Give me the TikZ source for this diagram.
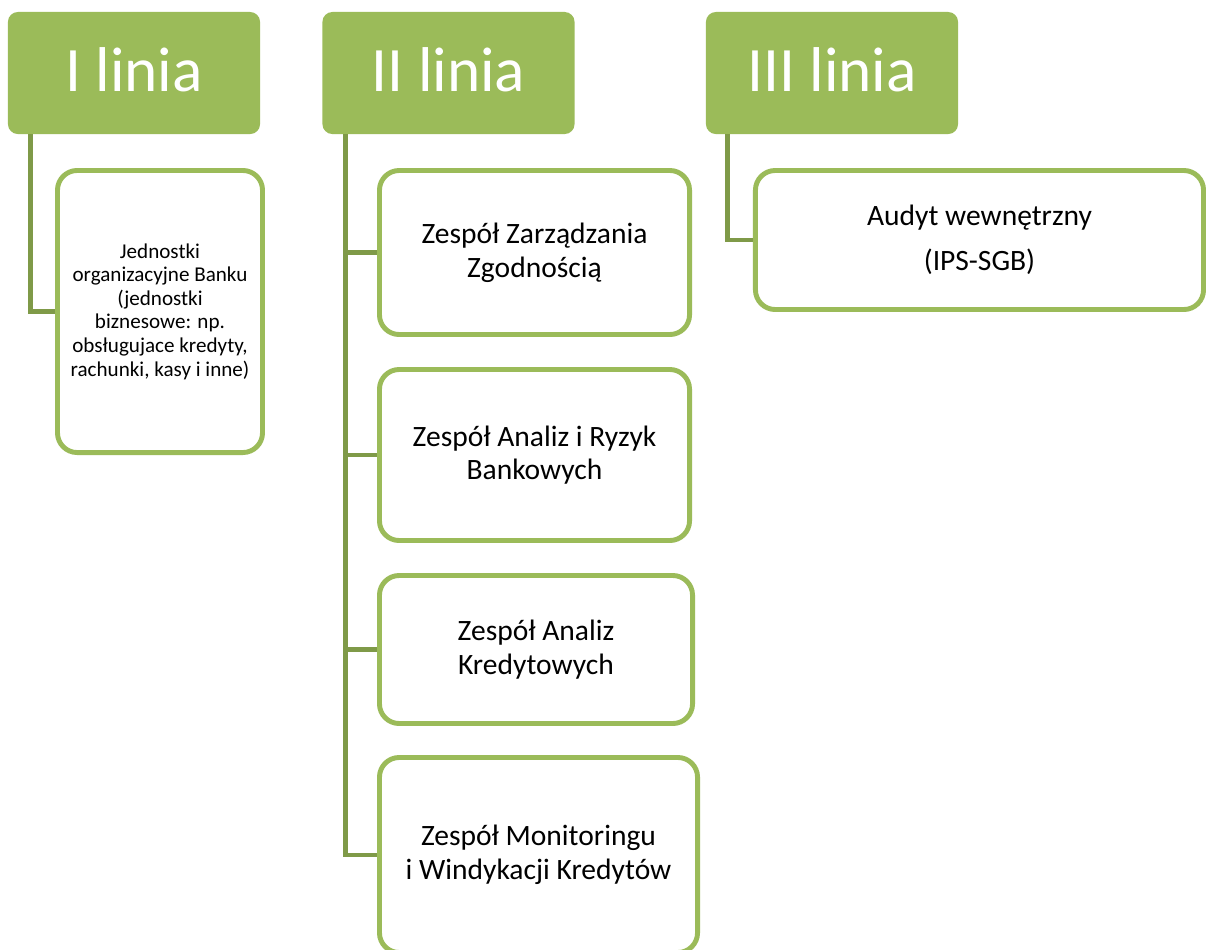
\documentclass[tikz,border=0pt]{standalone}
\usepackage{fontspec}
\setmainfont{Carlito}
\definecolor{lineGreen}{HTML}{9BBB59}
\definecolor{linkGreen}{HTML}{7F9A48}

\begin{document}
\begin{tikzpicture}[x=0.025cm, y=-0.025cm,
    header/.style={fill=lineGreen, rounded corners=7pt, text=white,
        font=\fontsize{45}{50}\selectfont, inner sep=0pt, text depth=5pt},
    unit/.style={draw=lineGreen, line width=3.5pt, fill=white, rounded corners=14pt,
        align=center, font=\fontsize{21}{24}\selectfont, inner sep=0pt},
    link/.style={draw=linkGreen, line width=3.4pt}]
    \def\hw{6.3cm}      % header width
    \def\hh{3.05cm}     % header height
    \def\lx{23}         % link distance from header edge
    \useasboundingbox (0,0) rectangle (1206,949);
    % Draw the line headers
    \node[header, minimum width=\hw, minimum height=\hh] (h1) at (134,73) {I linia};
    \node[header, minimum width=\hw, minimum height=\hh] (h2) at (448.5,73) {II linia};
    \node[header, minimum width=\hw, minimum height=\hh] (h3) at (832,73) {III linia};
    % Draw the first line unit
    \node[unit, minimum width=5.125cm, minimum height=7.05cm,
        font=\fontsize{15}{16.8}\selectfont] (b1) at (160,311.5)
        {Jednostki\\organizacyjne Banku\\(jednostki\\biznesowe: np.\\obsługujace kredyty,\\rachunki, kasy i inne)};
    % Draw the second line units
    \node[unit, minimum width=7.75cm, minimum height=4.1cm] (b2) at (534.5,252.5)
        {Zespół Zarządzania\\Zgodnością};
    \node[unit, minimum width=7.75cm, minimum height=4.275cm] (b3) at (534.5,455)
        {Zespół Analiz i Ryzyk\\Bankowych};
    \node[unit, minimum width=7.825cm, minimum height=3.7cm] (b4) at (536,649.5)
        {Zespół Analiz\\Kredytowych};
    \node[unit, minimum width=7.95cm, minimum height=4.875cm] (b5) at (538.5,855)
        {Zespół Monitoringu\\i Windykacji Kredytów};
    % Draw the third line unit
    \node[unit, minimum width=11.2cm, minimum height=3.475cm] (b6) at (979.5,240)
        {Audyt wewnętrzny\\[8pt](IPS-SGB)};
    % Draw the links
    \draw[link] (h1.south west) ++(\lx,0) |- (b1.west);
    \foreach \b in {b2,b3,b4,b5}
        \draw[link] (h2.south west) ++(\lx,0) |- (\b.west);
    \draw[link] (h3.south west) ++(22,0) |- (b6.west);
\end{tikzpicture}
\end{document}
